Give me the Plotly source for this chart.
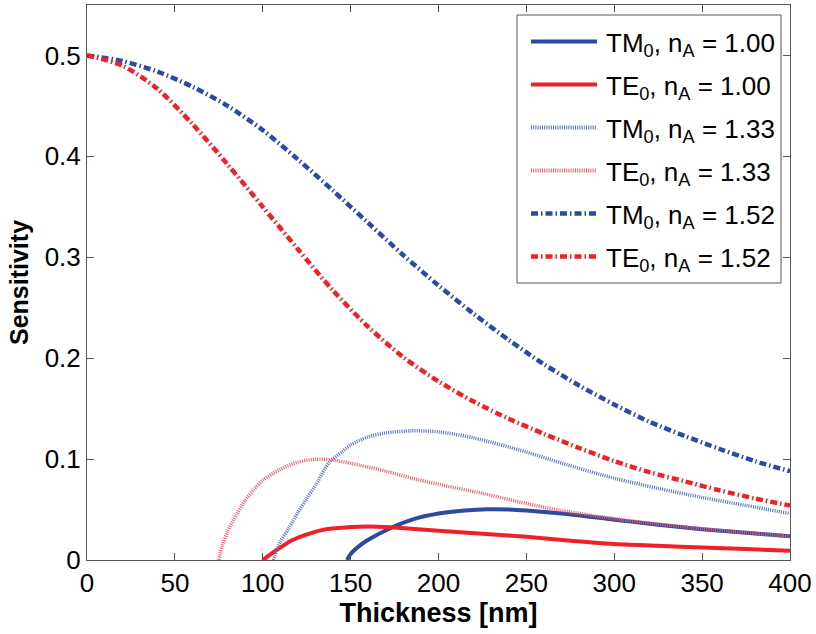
import plotly.graph_objects as go

# Sensitivity of the fundamental TM0 / TE0 modes versus film thickness,
# for three cover refractive indices n_A.

# n_A = 1.00
tm_100_t = [148, 150, 155, 160, 172, 185, 200, 215, 228, 240, 250, 270, 300, 325, 350, 375, 400]
tm_100_s = [0.000, 0.006, 0.014, 0.020, 0.031, 0.040, 0.046, 0.049, 0.0502, 0.050, 0.049, 0.046,
            0.040, 0.035, 0.0305, 0.027, 0.0235]
te_100_t = [100, 104, 108, 117, 127, 136, 145, 155, 165, 175, 200, 225, 250, 275, 300, 325, 350, 375, 400]
te_100_s = [0.000, 0.005, 0.010, 0.0198, 0.0264, 0.0304, 0.032, 0.033, 0.033, 0.0322, 0.029, 0.026,
            0.023, 0.019, 0.0158, 0.014, 0.0125, 0.0108, 0.0092]

# n_A = 1.33
tm_133_t = [106, 110, 115, 120, 125, 130, 138, 145, 150, 160, 170, 185, 200, 220, 250, 270, 300,
            325, 350, 375, 400]
tm_133_s = [0.000, 0.018, 0.032, 0.047, 0.061, 0.074, 0.097, 0.107, 0.114, 0.122, 0.126, 0.128,
            0.127, 0.121, 0.107, 0.096, 0.081, 0.071, 0.062, 0.054, 0.046]
te_133_t = [75, 77, 80, 85, 90, 95, 100, 110, 120, 130, 140, 155, 170, 185, 200, 225, 250, 270,
            300, 325, 350, 375, 400]
te_133_s = [0.000, 0.014, 0.028, 0.045, 0.059, 0.070, 0.079, 0.090, 0.097, 0.0998, 0.099, 0.094,
            0.088, 0.081, 0.075, 0.066, 0.056, 0.049, 0.041, 0.0355, 0.031, 0.027, 0.0235]

# n_A = 1.52
tm_152_t = [0, 20, 40, 60, 80, 100, 120, 140, 160, 180, 200, 220, 240, 260, 280, 300, 320, 340,
            360, 380, 400]
tm_152_s = [0.500, 0.4945, 0.484, 0.469, 0.450, 0.426, 0.397, 0.366, 0.334, 0.302, 0.272, 0.244,
            0.218, 0.194, 0.173, 0.154, 0.137, 0.123, 0.110, 0.098, 0.088]
te_152_t = [0, 20, 40, 60, 80, 100, 120, 140, 160, 180, 200, 220, 240, 260, 280, 300, 320, 340,
            360, 380, 400]
te_152_s = [0.500, 0.490, 0.467, 0.432, 0.392, 0.350, 0.308, 0.267, 0.231, 0.201, 0.177, 0.157,
            0.140, 0.125, 0.111, 0.098, 0.087, 0.078, 0.069, 0.061, 0.054]

x_ticks = [0, 50, 100, 150, 200, 250, 300, 350, 400]
y_ticks = [0, 0.1, 0.2, 0.3, 0.4, 0.5]
y_tick_text = ["0", "0.1", "0.2", "0.3", "0.4", "0.5"]

BLUE = "#2b4aa0"
RED = "#ee2128"
BLUE_DOT = "#5470c0"
RED_DOT = "#f25c68"
DASHDOT = "7px,3px,1.5px,3px"
DOT = "1px,1.2px"

series = [
    ("TM<sub>0</sub>, n<sub>A</sub> = 1.00", tm_100_t, tm_100_s, BLUE, "solid", 4),
    ("TE<sub>0</sub>, n<sub>A</sub> = 1.00", te_100_t, te_100_s, RED, "solid", 4),
    ("TM<sub>0</sub>, n<sub>A</sub> = 1.33", tm_133_t, tm_133_s, BLUE_DOT, DOT, 3.5),
    ("TE<sub>0</sub>, n<sub>A</sub> = 1.33", te_133_t, te_133_s, RED_DOT, DOT, 3.5),
    ("TM<sub>0</sub>, n<sub>A</sub> = 1.52", tm_152_t, tm_152_s, BLUE, DASHDOT, 4.5),
    ("TE<sub>0</sub>, n<sub>A</sub> = 1.52", te_152_t, te_152_s, RED, DASHDOT, 4.5),
]

W, H = 816, 634
L, R, T, B = 87, 26, 5, 74
PW, PH = W - L - R, H - T - B

FONT = "Liberation Sans, Arial, Helvetica, sans-serif"
AXIS_COLOR = "#555555"


def px_to_frac(x, y):
    """Convert a pixel position on the page to fractions of the plotting area."""
    return (x - L) / PW, (H - B - y) / PH


fig = go.Figure()
for name, t, s, color, dash, width in series:
    fig.add_trace(go.Scatter(
        x=t, y=s, mode="lines", name=name, showlegend=False,
        line=dict(color=color, dash=dash, width=width, shape="spline", smoothing=0.8),
    ))

# Boxed key in the upper-right corner, drawn on a hidden 0..1 overlay axis
# so the line samples use the same stroke styles as the curves.
shapes = []
annotations = []
bx0, by0 = px_to_frac(517, 283)
bx1, by1 = px_to_frac(781, 15)
shapes.append(dict(type="rect", xref="paper", yref="paper", x0=bx0, x1=bx1, y0=by0, y1=by1,
                   line=dict(color=AXIS_COLOR, width=1), fillcolor="white", layer="below"))
row_y0, row_step = 41.5, 43
for i, (name, _, _, color, dash, width) in enumerate(series):
    ry = row_y0 + i * row_step
    lx0, ly = px_to_frac(531, ry)
    lx1, _ = px_to_frac(597, ry)
    fig.add_trace(go.Scatter(
        x=[lx0, lx1], y=[ly, ly], xaxis="x2", yaxis="y2", mode="lines",
        showlegend=False, hoverinfo="skip",
        line=dict(color=color, dash=dash, width=max(width, 4)),
    ))
    tx, ty = px_to_frac(604, ry + 3)
    annotations.append(dict(text=name, xref="paper", yref="paper", x=tx, y=ty,
                            xanchor="left", yanchor="middle", showarrow=False,
                            font=dict(family=FONT, size=26, color="black")))

fig.update_layout(
    width=W, height=H,
    margin=dict(l=L, r=R, t=T, b=B),
    paper_bgcolor="white", plot_bgcolor="white",
    font=dict(family=FONT, size=25, color="black"),
    showlegend=False,
    shapes=shapes,
    annotations=annotations,
    xaxis=dict(
        range=[0, 400], tickvals=x_ticks,
        ticks="inside", ticklen=7, tickcolor=AXIS_COLOR, tickwidth=1,
        showline=True, linecolor=AXIS_COLOR, linewidth=1, mirror="ticks",
        showgrid=False, zeroline=False,
        tickfont=dict(family=FONT, size=26),
        title=dict(text="<b>Thickness [nm]</b>", font=dict(family=FONT, size=27), standoff=4),
    ),
    yaxis=dict(
        range=[0, 0.55], tickvals=y_ticks, ticktext=y_tick_text,
        ticks="inside", ticklen=7, tickcolor=AXIS_COLOR, tickwidth=1,
        showline=True, linecolor=AXIS_COLOR, linewidth=1, mirror="ticks",
        showgrid=False, zeroline=False,
        tickfont=dict(family=FONT, size=26),
        title=dict(text="<b>Sensitivity</b>", font=dict(family=FONT, size=25), standoff=8),
    ),
    xaxis2=dict(overlaying="x", range=[0, 1], visible=False, fixedrange=True),
    yaxis2=dict(overlaying="y", range=[0, 1], visible=False, fixedrange=True),
)

fig.write_html("out.html")
